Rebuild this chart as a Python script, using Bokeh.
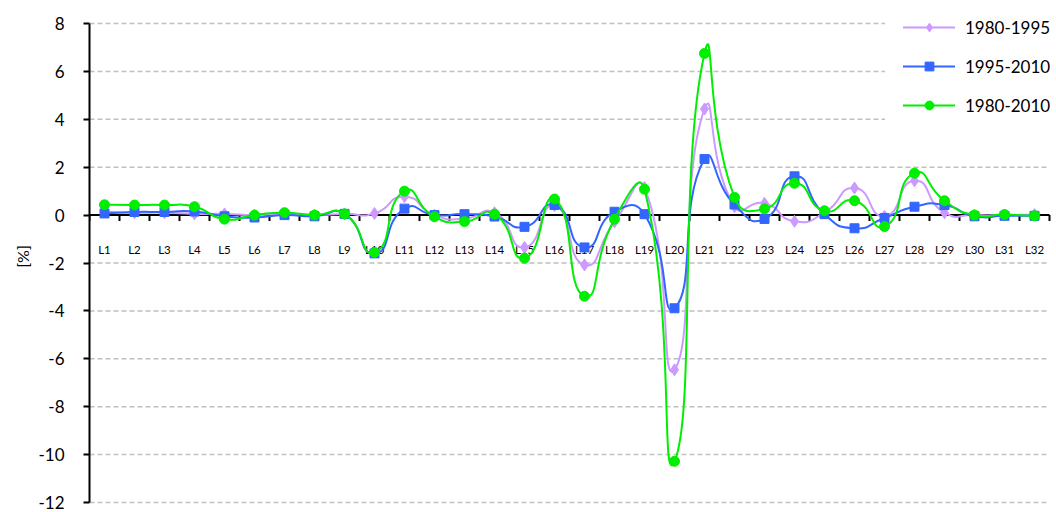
import math
from bokeh.plotting import figure
from bokeh.models import FixedTicker, Legend, LegendItem, ColumnDataSource
from bokeh.core.properties import value
from bokeh.embed import file_html
from bokeh.resources import INLINE

categories = ["L1", "L2", "L3", "L4", "L5", "L6", "L7", "L8", "L9", "L10",
              "L11", "L12", "L13", "L14", "L15", "L16", "L17", "L18", "L19", "L20",
              "L21", "L22", "L23", "L24", "L25", "L26", "L27", "L28", "L29", "L30",
              "L31", "L32"]

s_1980_1995 = [0.15, 0.10, 0.10, 0.05, 0.05, 0.00, 0.05, 0.00, 0.05, 0.07,
               0.77, 0.00, -0.15, 0.10, -1.35, 0.40, -2.08, -0.28, 1.15, -6.46,
               4.43, 0.35, 0.49, -0.26, 0.10, 1.13, -0.05, 1.43, 0.10, 0.00,
               0.00, 0.02]
s_1995_2010 = [0.07, 0.13, 0.13, 0.15, -0.05, -0.10, 0.00, -0.05, 0.05, -1.60,
               0.27, 0.00, 0.04, -0.06, -0.49, 0.42, -1.35, 0.14, 0.04, -3.89,
               2.34, 0.44, -0.16, 1.62, 0.04, -0.55, -0.12, 0.35, 0.42, -0.05,
               -0.03, -0.03]
s_1980_2010 = [0.43, 0.42, 0.42, 0.35, -0.17, 0.00, 0.10, 0.00, 0.05, -1.56,
               1.00, -0.07, -0.27, 0.04, -1.80, 0.67, -3.39, -0.17, 1.08, -10.28,
               6.75, 0.74, 0.26, 1.33, 0.18, 0.60, -0.48, 1.75, 0.60, 0.00,
               0.02, -0.03]

series_names = ["1980-1995", "1995-2010", "1980-2010"]
y_ticks = [-12, -10, -8, -6, -4, -2, 0, 2, 4, 6, 8]

W, H = 1056, 512
B_LEFT = 89
FONT = "Lato"

# pixel layout of the value axis inside the canvas
Y_TOP_PX, Y_BOT_PX = 23, 502          # canvas rows of the highest / lowest tick
CAT_PX = 30.0                         # width of one category
TENSION = 0.6

n = len(categories)
xs = list(range(1, n + 1))
y_lo, y_hi = y_ticks[0], y_ticks[-1]
px_per_unit = (Y_BOT_PX - Y_TOP_PX) / (y_hi - y_lo)
y_start = y_lo - (H - Y_BOT_PX) / px_per_unit
y_end = y_hi + Y_TOP_PX / px_per_unit
x_start = 0.5
x_end = x_start + (W - B_LEFT) / CAT_PX
x_first, x_last = 0.5, n + 0.5

p = figure(width=W, height=H, x_range=(x_start, x_end), y_range=(y_start, y_end),
           output_backend="svg", toolbar_location=None, x_axis_location=None,
           min_border_left=B_LEFT, min_border_right=0,
           min_border_top=0, min_border_bottom=0)
p.outline_line_color = None
p.background_fill_color = "white"
p.border_fill_color = "white"
p.xgrid.visible = False
p.ygrid.visible = False

ax = p.yaxis[0]
ax.ticker = FixedTicker(ticks=y_ticks, minor_ticks=[])
ax.bounds = (y_lo, y_hi)
ax.major_label_overrides = {t: str(t) for t in y_ticks}
ax.axis_line_color = "black"
ax.axis_line_width = 2
ax.major_tick_line_color = "black"
ax.major_tick_line_width = 2
ax.major_tick_out = 6
ax.major_tick_in = 0
ax.minor_tick_line_color = None
ax.major_label_standoff = 19
ax.major_label_text_font = FONT
ax.major_label_text_font_size = "17px"
ax.major_label_text_color = "black"
ax.axis_label = "[%]"
ax.axis_label_text_font = FONT
ax.axis_label_text_font_size = "16px"
ax.axis_label_text_font_style = "normal"
ax.axis_label_text_color = "black"
ax.axis_label_standoff = 3

# dashed horizontal grid lines
grid_y = [t for t in y_ticks if t != 0]
p.segment(x0=[x_first] * len(grid_y), y0=grid_y, x1=[x_last] * len(grid_y), y1=grid_y,
          line_color="#BFBFBF", line_width=1.5, line_dash="5 3")

# zero axis line
p.segment(x0=[x_first], y0=[0], x1=[x_last], y1=[0], line_color="black", line_width=2)

# category tick marks on zero line (between categories)
bounds = [i + 0.5 for i in range(n + 1)]
p.segment(x0=bounds, y0=[0] * len(bounds), x1=bounds, y1=[-6 / px_per_unit] * len(bounds),
          line_color="black", line_width=2)

# category labels
p.text(x=xs, y=[0] * n, text=categories, y_offset=34, text_align="center",
       text_baseline="middle", text_font=value(FONT), text_font_size=value("11.5px"),
       text_color="black")


def _dist(xa, ya, xb, yb):
    return math.hypot((xb - xa) * CAT_PX, (yb - ya) * px_per_unit)


def bezier_source(vals):
    """Excel-like smoothed line: Bezier control points scaled by screen segment lengths."""
    x0, y0, x1, y1, cx0, cy0, cx1, cy1 = [], [], [], [], [], [], [], []
    m = len(vals)
    for i in range(m - 1):
        xa, ya = xs[i], vals[i]
        xb, yb = xs[i + 1], vals[i + 1]
        xp, yp = (xs[i - 1], vals[i - 1]) if i > 0 else (xa, ya)
        xn, yn = (xs[i + 2], vals[i + 2]) if i + 2 < m else (xb, yb)
        d_pa = _dist(xp, yp, xa, ya)
        d_ab = _dist(xa, ya, xb, yb)
        d_bn = _dist(xb, yb, xn, yn)
        f1 = TENSION * d_ab / (d_pa + d_ab) / (2 if i == 0 else 1) if (d_pa + d_ab) > 0 else 0
        f2 = TENSION * d_ab / (d_ab + d_bn) / (2 if i + 2 >= m else 1) if (d_ab + d_bn) > 0 else 0
        x0.append(xa); y0.append(ya); x1.append(xb); y1.append(yb)
        cx0.append(xa + (xb - xp) * f1); cy0.append(ya + (yb - yp) * f1)
        cx1.append(xb - (xn - xa) * f2); cy1.append(yb - (yn - ya) * f2)
    return ColumnDataSource(dict(x0=x0, y0=y0, x1=x1, y1=y1, cx0=cx0, cy0=cy0, cx1=cx1, cy1=cy1))


styles = [
    (s_1980_1995, "#CC99FF", "diamond", 12),
    (s_1995_2010, "#3366FF", "square", 9),
    (s_1980_2010, "#00EE00", "circle", 10),
]

items = []
for name, (vals, color, marker, size) in zip(series_names, styles):
    src = bezier_source(vals)
    r_line = p.bezier(x0="x0", y0="y0", x1="x1", y1="y1", cx0="cx0", cy0="cy0",
                      cx1="cx1", cy1="cy1", source=src, line_color=color, line_width=2,
                      line_cap="round")
    r_pts = p.scatter(x=xs, y=vals, marker=marker, size=size, fill_color=color,
                      line_color=color, line_width=1)
    items.append(LegendItem(label=name, renderers=[r_line, r_pts]))

LEG_PAD, LEG_GH, LEG_SP = 18, 22, 17
leg_h = 2 * LEG_PAD + 3 * LEG_GH + 2 * LEG_SP
leg_left, leg_top = 885, -2
legend = Legend(items=items, location=(leg_left - B_LEFT, H - (leg_top + leg_h)),
                padding=LEG_PAD, spacing=LEG_SP, glyph_width=52, glyph_height=LEG_GH,
                label_standoff=10, margin=0, label_text_font=FONT,
                label_text_font_size="17px", label_text_color="black",
                background_fill_color="white", background_fill_alpha=1.0,
                border_line_alpha=0)
p.add_layout(legend)

open("out.html", "w").write(file_html(p, INLINE))
